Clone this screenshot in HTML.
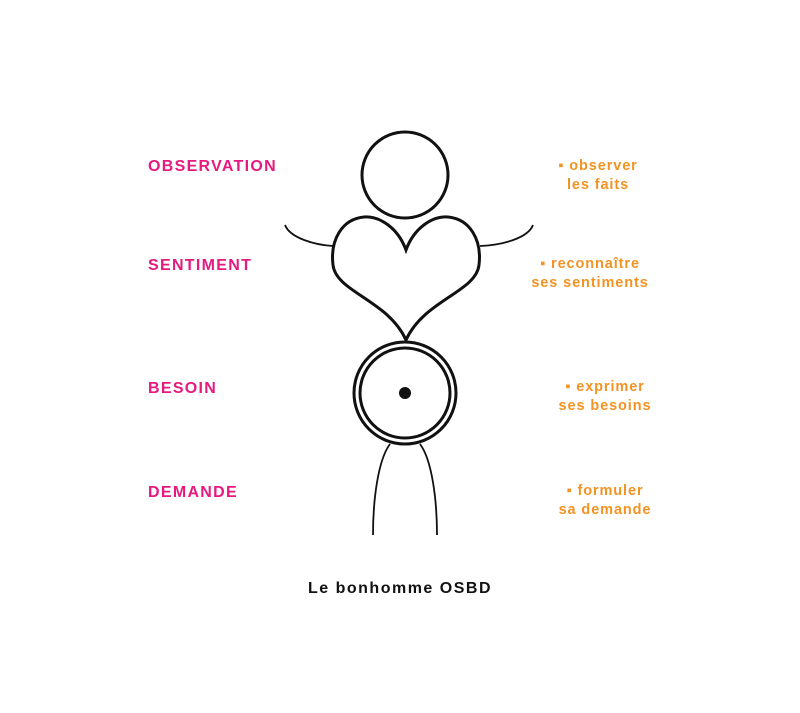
<!DOCTYPE html>
<html><head><meta charset="utf-8"><style>
html,body{margin:0;padding:0;background:#fff;}
body{width:800px;height:713px;position:relative;overflow:hidden;font-family:"Liberation Sans",sans-serif;}
.p{position:absolute;color:#e6197e;font-weight:bold;font-size:16px;letter-spacing:1.3px;white-space:nowrap;}
.o{position:absolute;color:#f39323;font-weight:bold;font-size:14.5px;letter-spacing:0.9px;line-height:19px;text-align:center;white-space:nowrap;}
.t{position:absolute;left:0;width:800px;top:580px;text-align:center;font-size:16px;color:#111;font-weight:bold;letter-spacing:1.5px;}
</style></head><body>
<svg width="800" height="713" style="position:absolute;left:0;top:0" fill="none" stroke="#111">
<circle cx="405" cy="175" r="43" stroke-width="3"/>
<path d="M406 250 C 398 228, 380 216, 364 217 C 342 219, 330 240, 333 265 C 336 292, 388 300, 406 340 C 424 300, 476 292, 479 265 C 482 240, 470 219, 448 217 C 432 216, 414 228, 406 250 Z" stroke-width="3"/>
<path d="M285 225 C 290 238, 315 245, 333 246" stroke-width="1.8"/>
<path d="M533 225 C 528 238, 503 245, 480 246" stroke-width="1.8"/>
<circle cx="405" cy="393" r="51" stroke-width="3"/>
<circle cx="405" cy="393" r="45" stroke-width="3"/>
<circle cx="405" cy="393" r="6" fill="#111" stroke="none"/>
<path d="M390 444 C 378 460, 373 500, 373 535" stroke-width="1.8"/>
<path d="M420 444 C 432 460, 437 500, 437 535" stroke-width="1.8"/>
</svg>
<div class="p" style="left:148px;top:158px">OBSERVATION</div>
<div class="p" style="left:148px;top:257px">SENTIMENT</div>
<div class="p" style="left:148px;top:380px">BESOIN</div>
<div class="p" style="left:148px;top:484px">DEMANDE</div>
<div class="o" style="left:538px;width:120px;top:157px">▪ observer<br>les faits</div>
<div class="o" style="left:520px;width:140px;top:255px">▪ reconnaître<br>ses sentiments</div>
<div class="o" style="left:540px;width:130px;top:378px">▪ exprimer<br>ses besoins</div>
<div class="o" style="left:540px;width:130px;top:482px">▪ formuler<br>sa demande</div>
<div class="t">Le bonhomme OSBD</div>
</body></html>
